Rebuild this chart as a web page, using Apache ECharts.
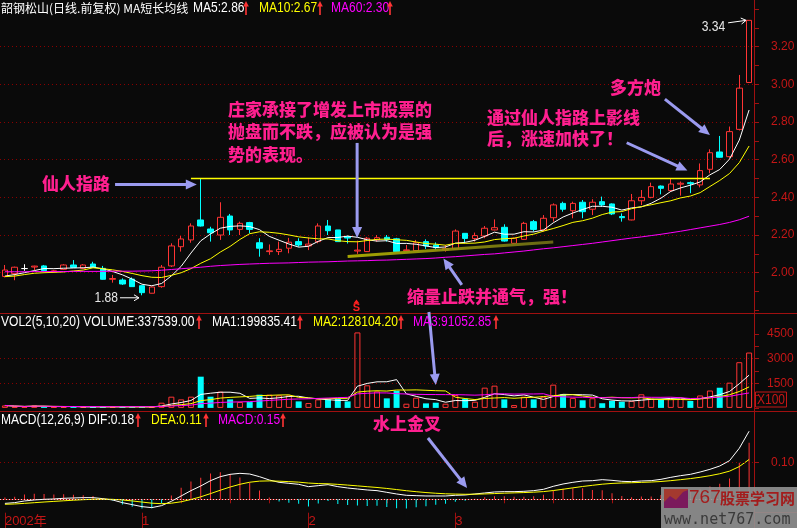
<!DOCTYPE html>
<html>
<head>
<meta charset="utf-8">
<script src="https://cdn.jsdelivr.net/npm/echarts@6/dist/echarts.min.js"></script>
<style>
  html, body { margin: 0; padding: 0; background: #0a0a0a; }
  #c { width: 797px; height: 528px; }
</style>
</head>
<body>
<div id="c"></div>
<script>
// ---- daily bars (forward-adjusted) ----
const open = [1.98,1.995,2.022,2.03,2.036,2.005,2.018,2.041,2.023,2.046,
  2.023,1.965,1.961,1.966,1.931,1.891,1.926,2.036,2.138,2.174,
  2.28,2.232,2.2,2.301,2.23,2.266,2.159,2.112,2.112,2.13,
  2.165,2.142,2.165,2.248,2.227,2.192,2.115,2.112,2.174,2.188,
  2.18,2.117,2.117,2.165,2.147,2.121,2.126,2.209,2.181,2.195,
  2.227,2.241,2.156,2.177,2.271,2.227,2.292,2.368,2.329,2.374,
  2.337,2.377,2.365,2.298,2.28,2.382,2.4,2.46,2.436,2.47,
  2.478,2.466,2.549,2.641,2.616,2.761,3.01];
const close = [2.014,2.029,2.022,2.035,2.011,2.01,2.041,2.028,2.041,2.029,
  1.965,1.969,1.94,1.926,1.894,1.924,2.029,2.142,2.179,2.248,
  2.248,2.212,2.294,2.227,2.262,2.23,2.13,2.116,2.124,2.162,
  2.147,2.152,2.248,2.223,2.165,2.184,2.12,2.183,2.186,2.176,
  2.112,2.121,2.159,2.142,2.133,2.128,2.221,2.182,2.197,2.236,
  2.239,2.168,2.183,2.262,2.23,2.289,2.36,2.337,2.368,2.324,
  2.374,2.36,2.312,2.292,2.382,2.4,2.457,2.448,2.471,2.475,
  2.473,2.542,2.637,2.613,2.749,2.98,3.34];
const low = [1.975,1.96,2.01,2.013,2.008,2.0,2.015,2.025,2.02,2.027,
  1.963,1.947,1.935,1.924,1.88,1.89,1.92,2.03,2.112,2.159,
  2.245,2.165,2.174,2.2,2.2,2.209,2.085,2.095,2.094,2.103,
  2.138,2.12,2.156,2.2,2.165,2.155,2.1,2.11,2.165,2.165,
  2.11,2.115,2.115,2.126,2.121,2.112,2.124,2.16,2.165,2.183,
  2.225,2.165,2.154,2.175,2.218,2.218,2.271,2.324,2.289,2.289,
  2.306,2.35,2.306,2.271,2.278,2.359,2.395,2.416,2.43,2.409,
  2.422,2.453,2.528,2.611,2.61,2.755,3.01];
const high = [2.041,2.032,2.045,2.037,2.041,2.015,2.045,2.067,2.046,2.058,
  2.036,1.988,1.97,1.975,1.933,1.926,2.041,2.156,2.195,2.262,
  2.5,2.244,2.374,2.312,2.271,2.27,2.183,2.15,2.165,2.185,
  2.183,2.188,2.262,2.28,2.227,2.197,2.17,2.19,2.2,2.2,
  2.185,2.147,2.174,2.177,2.161,2.147,2.23,2.209,2.213,2.248,
  2.283,2.257,2.186,2.27,2.28,2.306,2.368,2.377,2.377,2.386,
  2.39,2.404,2.368,2.315,2.418,2.439,2.478,2.463,2.498,2.484,
  2.484,2.58,2.655,2.726,2.776,3.05,3.34];

// MA5 / MA10 values at the start of the window (their windows reach back before day 1)
const ma5Head = [1.982, 1.99, 2.0, 2.011];
const ma10Head = [1.979, 1.982, 1.99, 1.997, 2.0, 2.002, 2.004, 2.009, 2.014];
// 60-day average line
const ma60 = [2.005,2.005,2.005,2.006,2.006,2.006,2.006,2.007,2.007,2.007,
  2.007,2.008,2.008,2.008,2.009,2.010,2.013,2.017,2.021,2.025,
  2.029,2.034,2.038,2.041,2.044,2.046,2.048,2.050,2.051,2.052,
  2.054,2.056,2.057,2.058,2.060,2.062,2.063,2.064,2.066,2.067,
  2.069,2.071,2.073,2.075,2.078,2.082,2.085,2.089,2.093,2.097,
  2.100,2.105,2.110,2.115,2.121,2.127,2.132,2.138,2.144,2.150,
  2.156,2.163,2.170,2.177,2.184,2.190,2.197,2.204,2.212,2.220,
  2.229,2.238,2.247,2.256,2.267,2.281,2.300];

// volume (lots)
const volume = [15000,7000,5000,15000,9000,5000,5000,7000,5000,7000,
  7000,5000,7000,7000,7000,5000,31600,68400,52000,68400,
  190400,68400,99000,52000,35700,35700,80600,80600,76500,76500,
  39800,29600,52000,52000,56100,39800,460200,137800,101000,58200,
  105100,25500,62200,27600,31600,25500,78600,56100,37800,123500,
  135700,52000,17300,68400,52000,68400,141800,83000,61000,46500,
  59000,28500,43000,37500,43000,83000,55515,52000,56000,56000,
  42000,75865,106000,123000,154000,278638.04,337539];

// MACD(12,26,9): DIF line, DEA seed on day 1
const dif = [-0.011,-0.009,-0.0045,-0.0018,0,0.0009,0.0027,0.0036,0.0045,0.0045,
  0.0018,-0.0018,-0.009,-0.0144,-0.0198,-0.0225,-0.0171,-0.0054,0.009,0.0234,
  0.036,0.0504,0.0612,0.0675,0.0702,0.0684,0.0612,0.0522,0.0459,0.0432,
  0.0405,0.0342,0.0369,0.0396,0.0342,0.0306,0.0279,0.0252,0.0234,0.0189,
  0.0144,0.0108,0.0099,0.009,0.009,0.009,0.0108,0.0117,0.0144,0.0171,
  0.0198,0.0207,0.0207,0.0216,0.0234,0.027,0.0351,0.0414,0.0459,0.0495,
  0.0504,0.0531,0.0513,0.0486,0.0477,0.0495,0.0504,0.054,0.0594,0.0639,
  0.0675,0.0738,0.081,0.09,0.1044,0.138,0.184];
const deaStart = -0.0135;

// time axis marks
const monthTickIdx = [0, 14, 31, 46];
const monthTickText = ['2002年', '1', '2', '3'];
const weekTickIdx = [18, 23, 27, 35, 39, 42, 51, 56, 62, 67];

// ---- derived series ----
const N = close.length;
const days = close.map((_, i) => 'D' + (i + 1));
function movingAvg(src, n, head) {
  return src.map((_, i) => {
    if (head && i < head.length) return head[i];
    const s = Math.max(0, i - n + 1);
    let sum = 0;
    for (let k = s; k <= i; k++) sum += src[k];
    return sum / (i - s + 1);
  });
}
const ma5 = movingAvg(close, 5, ma5Head);
const ma10 = movingAvg(close, 10, ma10Head);
const volMa5 = movingAvg(volume, 5);
const volMa10 = movingAvg(volume, 10);
const volMa20 = movingAvg(volume, 20);
const dea = [];
dif.forEach((d, i) => dea.push(i === 0 ? deaStart : dea[i - 1] * 0.8 + d * 0.2));
const macd = dif.map((d, i) => 2 * (d - dea[i]));

// ---- styling ----
const BG = '#0a0a0a', RED = '#ff3434', CYAN = '#00ffff', WHITE = '#ffffff',
      YELLOW = '#ffff00', MAGENTA = '#ff00ff', FRAME = '#a01010', AXIS_TXT = '#c41616',
      GRIDDOT = '#8a0000', PINK = '#ff1f8f', LAV = '#9b9bf0';
const FN = "'Liberation Sans',Arial,sans-serif";
const FC = "'Noto Sans CJK SC','Noto Sans CJK JP',sans-serif";
const PLOT_RIGHT = 43;

const candleData = days.map((_, i) => {
  const item = { value: [open[i], close[i], low[i], high[i]] };
  if (open[i] === close[i]) item.itemStyle = { color: WHITE, borderColor: WHITE, borderColor0: WHITE };
  return item;
});
const volData = volume.map((v, i) => close[i] >= open[i]
  ? { value: v, itemStyle: { color: 'rgba(0,0,0,0)', borderColor: RED, borderWidth: 1 } }
  : { value: v, itemStyle: { color: CYAN } });
const macdData = macd.map(v => ({ value: v, itemStyle: { color: v >= 0 ? RED : CYAN } }));

const hiddenX = (g) => ({
  type: 'category', gridIndex: g, data: days, boundaryGap: true,
  axisLine: { show: false }, axisTick: { show: false }, axisLabel: { show: false }, splitLine: { show: false }
});
const lineSeries = (name, data, color, xi, yi) => ({
  name, type: 'line', data, xAxisIndex: xi, yAxisIndex: yi, symbol: 'none', silent: true,
  lineStyle: { color, width: 1 }, z: 3
});
const rightAxisLabel = (margin, extra) => Object.assign({
  color: AXIS_TXT, fontSize: 12, fontFamily: FN, margin
}, extra);

const option = {
  backgroundColor: BG,
  animation: false,
  grid: [
    { left: 0, right: PLOT_RIGHT, top: 9.03, height: 301.33, outerBoundsMode: 'none' },
    { left: 0, right: PLOT_RIGHT, top: 334.1, height: 73.8, outerBoundsMode: 'none' },
    { left: 0, right: PLOT_RIGHT, top: 411.7, height: 101, outerBoundsMode: 'none' }
  ],
  xAxis: [
    hiddenX(0),
    hiddenX(1),
    {
      type: 'category', gridIndex: 2, data: days, boundaryGap: true, position: 'bottom',
      axisLine: { show: true, lineStyle: { color: FRAME, width: 1 } },
      axisTick: { show: true, length: 4, alignWithLabel: true,
        interval: (idx) => weekTickIdx.includes(idx), lineStyle: { color: FRAME } },
      axisLabel: { show: false }, splitLine: { show: false }
    },
    {
      type: 'category', gridIndex: 2, data: days, boundaryGap: true, position: 'bottom', offset: 0,
      axisLine: { show: false },
      axisTick: { show: true, length: 16, alignWithLabel: true,
        interval: (idx) => monthTickIdx.includes(idx), lineStyle: { color: FRAME } },
      axisLabel: {
        show: true, interval: (idx) => monthTickIdx.includes(idx),
        formatter: (v, idx) => monthTickText[monthTickIdx.indexOf(idx)] || '',
        color: AXIS_TXT, fontSize: 13, fontFamily: FN + ",'Noto Sans CJK SC'", align: 'left', margin: 2
      },
      splitLine: { show: false }
    }
  ],
  yAxis: [
    {
      type: 'value', gridIndex: 0, position: 'right', min: 1.8, max: 3.4, interval: 0.2,
      axisLine: { show: true, lineStyle: { color: FRAME } },
      axisTick: { show: true, length: 5, lineStyle: { color: FRAME } },
      minorTick: { show: true, splitNumber: 2, length: 5, lineStyle: { color: FRAME } },
      axisLabel: rightAxisLabel(17, { showMinLabel: false, showMaxLabel: false, formatter: v => v.toFixed(2) }),
      splitLine: { show: true, showMinLine: false, showMaxLine: false,
        lineStyle: { color: GRIDDOT, type: [1, 3], width: 1 } }
    },
    {
      type: 'value', gridIndex: 1, position: 'right', min: 0, max: 450000, interval: 150000,
      axisLine: { show: true, lineStyle: { color: FRAME } },
      axisTick: { show: true, length: 5, lineStyle: { color: FRAME } },
      minorTick: { show: true, splitNumber: 2, length: 5, lineStyle: { color: FRAME } },
      axisLabel: rightAxisLabel(13, { showMinLabel: false, showMaxLabel: true,
        formatter: v => String(Math.round(v / 100)) }),
      splitLine: { show: true, showMinLine: false, showMaxLine: false,
        lineStyle: { color: GRIDDOT, type: [1, 3], width: 1 } }
    },
    {
      type: 'value', gridIndex: 2, position: 'right', min: -0.0362, max: 0.2368,
      axisLine: { show: true, lineStyle: { color: FRAME } },
      axisTick: { show: true, length: 5, customValues: [0.1], lineStyle: { color: FRAME } },
      axisLabel: rightAxisLabel(17, { customValues: [0.1], formatter: v => v.toFixed(2) }),
      splitLine: { show: false }
    }
  ],
  series: [
    {
      name: 'K', type: 'candlestick', xAxisIndex: 0, yAxisIndex: 0, data: candleData,
      barWidth: 6, silent: true,
      itemStyle: { color: 'rgba(0,0,0,0)', color0: CYAN, borderColor: RED, borderColor0: CYAN,
        borderColorDoji: WHITE, borderWidth: 1 },
      markLine: {
        silent: true, symbol: ['none', 'none'], label: { show: false }, animation: false,
        emphasis: { disabled: true },
        data: [
          [{ coord: [19, high[20]], lineStyle: { color: YELLOW, width: 1.3, type: 'solid' } },
           { coord: [72, high[20]] }],
          [{ coord: [35, 2.086], lineStyle: { width: 3, type: 'solid', opacity: 0.9,
              color: new echarts.graphic.LinearGradient(0, 0, 1, 0, [
                { offset: 0, color: '#b8b800' }, { offset: 1, color: '#6f6f16' }]) } },
           { coord: [56, 2.163] }]
        ]
      },
      z: 2
    },
    lineSeries('MA5', ma5, WHITE, 0, 0),
    lineSeries('MA10', ma10, YELLOW, 0, 0),
    lineSeries('MA60', ma60, MAGENTA, 0, 0),
    {
      name: 'VOL', type: 'bar', xAxisIndex: 1, yAxisIndex: 1, data: volData, barWidth: 6,
      silent: true, clip: false, z: 2
    },
    lineSeries('VMA5', volMa5, WHITE, 1, 1),
    lineSeries('VMA10', volMa10, YELLOW, 1, 1),
    lineSeries('VMA20', volMa20, MAGENTA, 1, 1),
    {
      name: 'MACD', type: 'bar', xAxisIndex: 2, yAxisIndex: 2, data: macdData, barWidth: 1,
      silent: true, z: 2,
      markLine: {
        silent: true, symbol: ['none', 'none'], label: { show: false }, animation: false,
        emphasis: { disabled: true },
        data: [
          { yAxis: 0.1, lineStyle: { color: GRIDDOT, type: [1, 3], width: 1 } },
          { yAxis: 0, lineStyle: { color: '#e0e0e0', type: [1, 2], width: 1 } }
        ]
      }
    },
    lineSeries('DIF', dif, WHITE, 2, 2),
    lineSeries('DEA', dea, YELLOW, 2, 2)
  ]
};

const chart = echarts.init(document.getElementById('c'), null, { renderer: 'canvas' });
chart.setOption(option);

// ---- overlays: headers, notes and arrows ----
function toPx(g, idx, v) {
  const i0 = Math.floor(idx), f = idx - i0;
  const a = chart.convertToPixel({ gridIndex: g }, [i0, v]);
  if (!f) return a;
  const b = chart.convertToPixel({ gridIndex: g }, [i0 + 1, v]);
  return [a[0] + (b[0] - a[0]) * f, a[1]];
}
function text(x, y, s, fill, font, align, sx) {
  return { type: 'text', x, y, z: 60, silent: true, scaleX: sx || 1,
    style: { text: s, fill, font, align: align || 'left', verticalAlign: 'middle',
             textAlign: align || 'left', textVerticalAlign: 'middle' } };
}
// condensed figures, as in the terminal's header rows
const NUMF = '14px ' + FN, NARROW = 0.86;
const num = (x, y, s, fill, align) => text(x, y, s, fill, NUMF, align, NARROW);
function upMark(x, yc) {
  return [
    { type: 'line', z: 60, silent: true, shape: { x1: x, y1: yc - 3, x2: x, y2: yc + 7 },
      style: { stroke: RED, lineWidth: 1.6 } },
    { type: 'polygon', z: 60, silent: true,
      shape: { points: [[x, yc - 7], [x - 2.8, yc - 1.5], [x + 2.8, yc - 1.5]] }, style: { fill: RED } }
  ];
}
function arrow(p0, p1, color, w, hl, hw) {
  const dx = p1[0] - p0[0], dy = p1[1] - p0[1], L = Math.hypot(dx, dy);
  const ux = dx / L, uy = dy / L, bx = p1[0] - ux * hl, by = p1[1] - uy * hl;
  return [
    { type: 'line', z: 55, silent: true, shape: { x1: p0[0], y1: p0[1], x2: bx + ux, y2: by + uy },
      style: { stroke: color, lineWidth: w } },
    { type: 'polygon', z: 55, silent: true,
      shape: { points: [[p1[0], p1[1]], [bx - uy * hw, by + ux * hw], [bx + uy * hw, by - ux * hw]] },
      style: { fill: color } }
  ];
}
function thinArrow(p0, p1, color) {
  const dx = p1[0] - p0[0], dy = p1[1] - p0[1], L = Math.hypot(dx, dy);
  const ux = dx / L, uy = dy / L, bx = p1[0] - ux * 5, by = p1[1] - uy * 5;
  return [
    { type: 'line', z: 55, silent: true, shape: { x1: p0[0], y1: p0[1], x2: p1[0], y2: p1[1] },
      style: { stroke: color, lineWidth: 1 } },
    { type: 'polyline', z: 55, silent: true,
      shape: { points: [[bx - uy * 3, by + ux * 3], p1, [bx + uy * 3, by - ux * 3]] },
      style: { stroke: color, lineWidth: 1, fill: null } }
  ];
}

const g = [];
const W = 797, PLOT_X = W - PLOT_RIGHT;
// panel frame
const frameLine = (x1, y1, x2, y2) => ({ type: 'line', z: 40, silent: true,
  shape: { x1, y1, x2, y2 }, style: { stroke: FRAME, lineWidth: 1 } });
g.push(frameLine(0, 313.5, W, 313.5), frameLine(0, 411.5, W, 411.5),
       frameLine(PLOT_X, 512.5, W, 512.5), frameLine(PLOT_X + 0.5, 0, PLOT_X + 0.5, 528));

// header rows
const f2 = v => v.toFixed(2);
g.push(text(1, 8, '韶钢松山(日线.前复权) MA短长均线', WHITE, '12px ' + FC));
g.push(num(193, 8, 'MA5:' + f2(ma5[N - 1]), WHITE), ...upMark(246, 8));
g.push(num(259, 8, 'MA10:' + f2(ma10[N - 1]), YELLOW), ...upMark(320, 8));
g.push(num(331, 8, 'MA60:' + f2(ma60[N - 1]), MAGENTA), ...upMark(390, 8));

g.push(num(1, 322, 'VOL2(5,10,20) VOLUME:' + f2(volume[N - 1]), WHITE), ...upMark(199, 322));
g.push(num(212, 322, 'MA1:' + f2(volMa5[N - 1]), WHITE), ...upMark(300, 322));
g.push(num(313, 322, 'MA2:' + f2(volMa10[N - 1]), YELLOW), ...upMark(401, 322));
g.push(num(413, 322, 'MA3:' + f2(volMa20[N - 1]), MAGENTA), ...upMark(496, 322));

g.push(num(1, 420, 'MACD(12,26,9) DIF:' + f2(dif[N - 1]), WHITE), ...upMark(138, 420));
g.push(num(151, 420, 'DEA:' + f2(dea[N - 1]), YELLOW), ...upMark(206, 420));
g.push(num(218, 420, 'MACD:' + f2(macd[N - 1]), MAGENTA), ...upMark(283, 420));

// volume unit box
g.push({ type: 'rect', z: 60, silent: true, shape: { x: 755.5, y: 392, width: 31, height: 15 },
  style: { stroke: AXIS_TXT, fill: null, lineWidth: 1 } });
g.push(num(771, 400, 'X100', AXIS_TXT, 'center'));

// extreme price tags
const lowMin = Math.min(...low), lowIdx = low.indexOf(lowMin);
const pl = toPx(0, lowIdx, lowMin);
g.push(...thinArrow([pl[0] - 22, pl[1] + 2.5], [pl[0] - 3, pl[1] + 2.5], WHITE));
g.push(num(pl[0] - 24, pl[1] + 3, f2(lowMin), '#e8e8e8', 'right'));
const highMax = Math.max(...high), highIdx = high.indexOf(highMax);
const ph = toPx(0, highIdx, highMax);
g.push(...thinArrow([ph[0] - 21, ph[1] + 2.5], [ph[0] - 3, ph[1]], WHITE));
g.push(num(ph[0] - 24, ph[1] + 7, f2(highMax), '#e8e8e8', 'right'));

// event marker under the heavy-volume day
const evIdx = volume.indexOf(Math.max(...volume));
const ex = toPx(0, evIdx, 2)[0] - 1;
g.push({ type: 'polygon', z: 60, silent: true,
  shape: { points: [[ex, 299.5], [ex - 3, 303.5], [ex + 3, 303.5]] }, style: { fill: '#ff2020' } });
g.push(text(ex, 308, 'S', '#ff2020', 'bold 11px ' + FN, 'center'));

// notes
const NOTE = '900 17px ' + FC;
g.push(text(42, 184, '仙人指路', PINK, NOTE));
g.push(text(228, 110, '庄家承接了增发上市股票的', PINK, NOTE));
g.push(text(228, 132, '抛盘而不跌，应被认为是强', PINK, NOTE));
g.push(text(228, 155, '势的表现。', PINK, NOTE));
g.push(text(487, 118, '通过仙人指路上影线', PINK, NOTE));
g.push(text(487, 139, '后，涨速加快了！', PINK, NOTE));
g.push(text(610, 88, '多方炮', PINK, NOTE));
g.push(text(407, 297, '缩量止跌并通气，强！', PINK, NOTE));
g.push(text(373, 424, '水上金叉', PINK, NOTE));

// note arrows, anchored in data space
const noteArrows = [
  { grid: 0, from: [11.25, 2.468], to: [19.6, 2.468] },
  { grid: 0, from: [35.97, 2.689], to: [35.97, 2.184] },
  { grid: 0, from: [63.5, 2.69], to: [69.7, 2.542] },
  { grid: 0, from: [67.4, 2.922], to: [72.0, 2.731] },
  { grid: 0, from: [46.66, 1.935], to: [44.78, 2.076] },
  { grid: 1, from: [43.3, 584800], to: [44.0, 139600] },
  { grid: 2, from: [43.2, 0.1657], to: [47.2, 0.0305] }
];
noteArrows.forEach(a => {
  g.push(...arrow(toPx(a.grid, a.from[0], a.from[1]), toPx(a.grid, a.to[0], a.to[1]), LAV, 3, 11, 5));
});

// site watermark
g.push({ type: 'rect', z: 90, silent: true, shape: { x: 661, y: 487, width: 136, height: 41 },
  style: { fill: 'rgba(146,146,146,0.9)' } });
g.push({ type: 'rect', z: 91, silent: true, shape: { x: 664, y: 489, width: 24, height: 19 },
  style: { fill: '#a4392f' } });
g.push({ type: 'polygon', z: 92, silent: true,
  shape: { points: [[664, 508], [664, 502], [670, 496], [676, 500], [683, 492], [688, 490], [688, 508]] },
  style: { fill: '#7b1a5c' } });
g.push(Object.assign(text(689, 498, '767', '#a31c1c', '19px ' + FN), { z: 93 }));
g.push(Object.assign(text(720, 498, '股票学习网', '#a31c1c', 'bold 15px ' + FC), { z: 93 }));
g.push(Object.assign(text(664, 520, 'www.net767.com', '#3a3a3a', "15px 'DejaVu Sans Mono',monospace"), { z: 93 }));

chart.setOption({ graphic: { elements: g } });
</script>
</body>
</html>
